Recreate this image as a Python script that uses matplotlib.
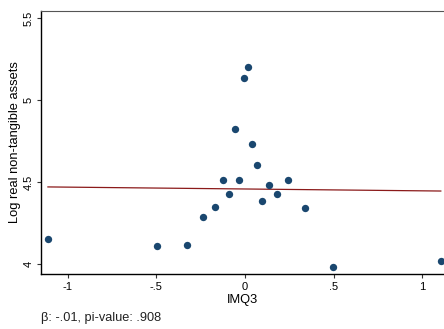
import matplotlib
matplotlib.use("Agg")
import matplotlib.pyplot as plt
import numpy as np

plt.rcParams['font.family'] = ['Liberation Sans', 'DejaVu Sans']

imq3 = [-1.111, -0.496, -0.327, -0.237, -0.171, -0.126, -0.090, -0.058, -0.034,
        -0.007, 0.015, 0.039, 0.066, 0.098, 0.134, 0.182, 0.243, 0.337, 0.498, 1.104]
log_assets = [4.152, 4.110, 4.116, 4.285, 4.348, 4.512, 4.425, 4.821, 4.510,
              5.136, 5.199, 4.734, 4.605, 4.382, 4.484, 4.429, 4.514, 4.343, 3.984, 4.016]
fit_intercept = 4.4575
fit_slope = -0.0113
xticks = [-1, -0.5, 0, 0.5, 1]
xticklabels = ["-1", "-.5", "0", ".5", "1"]
yticks = [4, 4.5, 5, 5.5]
yticklabels = ["4", "4.5", "5", "5.5"]
note = "β: -.01, pi-value: .908"

fig = plt.figure(figsize=(4.44, 3.29), dpi=100)
ax = fig.add_axes([41/444, 1 - 274/329, (444 - 41)/444, (274 - 11)/329])

xs = np.array([min(imq3), max(imq3)])
ax.plot(xs, fit_intercept + fit_slope * xs, color='#8b1a1a', lw=0.9, zorder=2)
ax.scatter(imq3, log_assets, s=28, color='#1a476f', zorder=3, linewidths=0)

ax.set_xlim(-1.15, 1.122)
ax.set_ylim(3.939, 5.543)
ax.set_xticks(xticks)
ax.set_xticklabels(xticklabels)
ax.set_yticks(yticks)
ax.set_yticklabels(yticklabels, rotation=90, va='center')
ax.tick_params(axis='both', labelsize=8, length=3, width=0.8, color='#333333', pad=2.5)
ax.set_xlabel("IMQ3", fontsize=9.3, labelpad=2)
ax.set_ylabel("Log real non-tangible assets", fontsize=9.3, labelpad=2)
for s in ['left', 'bottom']:
    ax.spines[s].set_color('black')
    ax.spines[s].set_linewidth(1.0)
ax.spines['top'].set_color('#555555')
ax.spines['top'].set_linewidth(0.8)
ax.spines['right'].set_visible(False)

fig.text(41/444, 1 - 318/329, note, fontsize=9.2, color='#222222', va='center', ha='left')
fig.savefig("out.png", dpi=100)
